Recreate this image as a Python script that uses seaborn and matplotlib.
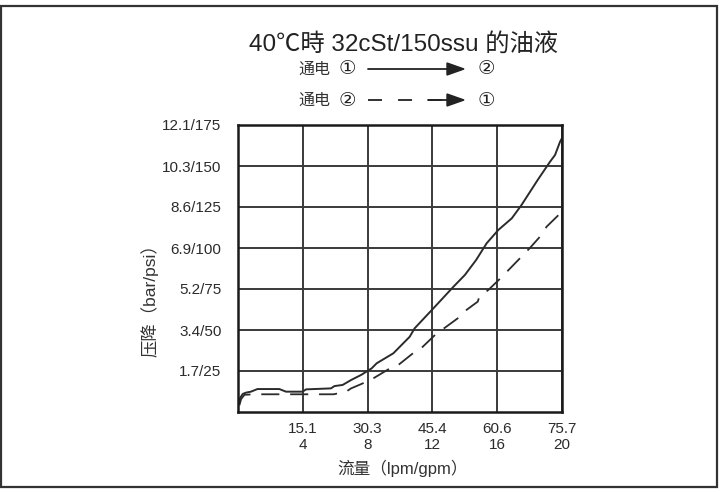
import matplotlib
matplotlib.use("Agg")
import matplotlib.pyplot as plt
import seaborn as sns
import pandas as pd
from matplotlib.patches import Rectangle

# ---- data (flow in gpm, pressure drop in psi) ----
solid_gpm = [0.08, 0.12, 0.29, 0.49, 0.8, 1.2, 2.55, 2.96, 3.99, 4.2, 5.74, 5.95, 6.46, 6.98,
             7.6, 8.25, 8.56, 9.59, 10.6, 10.9, 12.06, 13.3, 14.0, 14.7, 15.35, 16.07, 16.9,
             17.5, 18.5, 19.26, 19.57, 19.88, 20.0]
solid_psi = [5.3, 8.4, 11.0, 11.8, 12.4, 14.0, 14.0, 12.4, 12.4, 13.8, 14.4, 15.8, 16.5, 19.5,
             22.6, 26.6, 29.7, 35.8, 45.9, 51.0, 63.2, 76.4, 83.5, 92.7, 102.9, 111.0, 118.1,
             126.2, 141.5, 152.6, 156.7, 164.8, 167.0]
dashed_gpm = [0.08, 0.2, 0.4, 1.0, 2.3, 3.0, 3.9, 4.9, 5.9, 6.67, 6.98, 7.6, 8.35, 9.38, 9.9,
              10.8, 11.3, 12.27, 12.8, 13.7, 14.1, 14.8, 14.9, 15.45, 16.2, 16.8, 18.0, 18.64,
              19.05, 19.9]
dashed_psi = [4.0, 8.0, 10.5, 10.8, 10.8, 10.8, 10.8, 10.8, 10.8, 12.4, 14.4, 17.0, 20.5, 26.6,
              28.7, 35.8, 38.8, 48.0, 51.6, 58.1, 62.2, 67.3, 70.3, 74.4, 81.5, 87.6, 99.8,
              106.9, 113.0, 121.2]

x_ticks = [4, 8, 12, 16, 20]
x_labels = ["15.1\n4", "30.3\n8", "45.4\n12", "60.6\n16", "75.7\n20"]
y_ticks = [25, 50, 75, 100, 125, 150, 175]
y_labels = ["1.7/25", "3.4/50", "5.2/75", "6.9/100", "8.6/125", "10.3/150", "12.1/175"]

title = "40℃時 32cSt/150ssu 的油液"
xlabel = "流量（lpm/gpm）"
ylabel = "压降（bar/psi）"

sns.set_theme(style="white")
FAM = ["Liberation Sans", "Noto Sans CJK SC", "DejaVu Sans"]
CJK = ["Noto Sans CJK SC", "DejaVu Sans"]
plt.rcParams["font.family"] = FAM

ink = "#2b2b2b"
fig = plt.figure(figsize=(7.24, 4.92), dpi=100)
ax = fig.add_axes([238 / 724, 1 - 412 / 492, 324 / 724, 287 / 492])

df_s = pd.DataFrame({"gpm": solid_gpm, "psi": solid_psi})
df_d = pd.DataFrame({"gpm": dashed_gpm, "psi": dashed_psi})
sns.lineplot(data=df_s, x="gpm", y="psi", ax=ax, color=ink, lw=1.4, sort=False, estimator=None)
sns.lineplot(data=df_d, x="gpm", y="psi", ax=ax, color=ink, lw=1.3, sort=False, estimator=None,
             dashes=False, linestyle=(0, (10, 6)))

ax.set_xlim(0, 20)
ax.set_ylim(0, 175)
ax.set_xticks(x_ticks)
ax.set_xticklabels(x_labels, fontsize=11, color=ink, linespacing=1.2)
ax.set_yticks(y_ticks)
ax.set_yticklabels(y_labels, fontsize=11, color=ink)
ax.tick_params(axis="x", length=0, pad=7)
ax.tick_params(axis="y", length=0, pad=12)
ax.grid(True, color="#3a3a3a", lw=1.4)
for s in ax.spines.values():
    s.set_color("#1a1a1a")
    s.set_linewidth(1.8)
ax.set_xlabel("")
ax.set_ylabel("")

fig.text(403 / 724, 1 - 468 / 492, xlabel, ha="center", va="center", fontsize=12,
         color="#333333", family=FAM)
fig.text(150 / 724, 1 - 296 / 492, ylabel, ha="center", va="center", rotation=90,
         fontsize=12.5, color="#333333", family=FAM)

fig.text(403 / 724, 1 - 44 / 492, title, ha="center", va="center", fontsize=17.5,
         color="#222222", family=FAM)

# legend rows
for yy, a, b, ls in [(69, "①", "②", "-"), (100, "②", "①", (0, (7.75, 8.9)))]:
    fy = 1 - yy / 492
    fig.text(314 / 724, fy, "通电", ha="center", va="center", fontsize=11.5, color="#333333", family=CJK)
    fig.text(347 / 724, fy, a, ha="center", va="center", fontsize=14, color="#222222",
             family=["DejaVu Sans"])
    fig.text(486 / 724, fy, b, ha="center", va="center", fontsize=14, color="#222222",
             family=["DejaVu Sans"])
    fig.add_artist(plt.Line2D([368 / 724, 449 / 724], [fy, fy], color="#222222", lw=1.3,
                              linestyle=ls, transform=fig.transFigure))
    if ls != "-":
        fig.add_artist(plt.Line2D([428 / 724, 449 / 724], [fy, fy], color="#222222", lw=1.3,
                                  transform=fig.transFigure))
    fig.add_artist(plt.Polygon([[447 / 724, fy + 6 / 492], [464 / 724, fy], [447 / 724, fy - 6 / 492]],
                               closed=True, color="#222222", transform=fig.transFigure))

fig.add_artist(Rectangle((1 / 724, 1 - 487 / 492), 716 / 724, 481 / 492, fill=False,
                         edgecolor="#333333", lw=1.6, transform=fig.transFigure))

fig.savefig("out.png", dpi=100)
